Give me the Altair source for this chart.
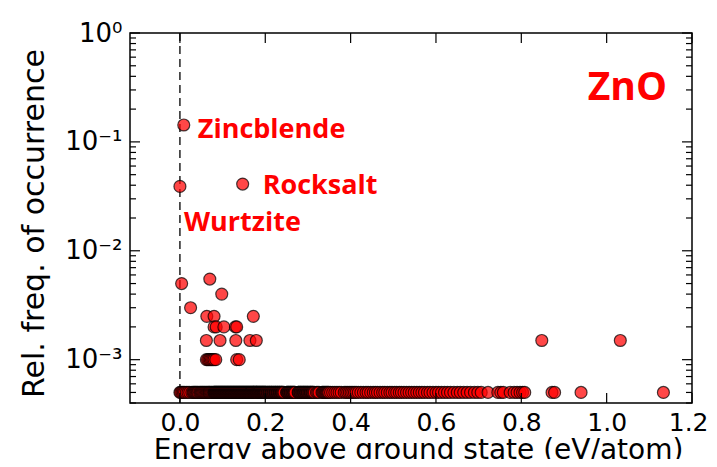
import altair as alt
import pandas as pd

# ---------------- data ----------------
# x positions (eV/atom) of the structures, grouped by their relative frequency
freq_levels = [0.143, 0.041, 0.039, 0.0055, 0.005, 0.004, 0.003, 0.0025, 0.002, 0.0015, 0.001, 0.0005]

x_0143 = [0.009]
x_0041 = [0.147]
x_0039 = [0.000]
x_00055 = [0.070]
x_0005 = [0.004]
x_0004 = [0.098]
x_0003 = [0.025]
x_00025 = [0.063, 0.080, 0.172]
x_0002 = [0.080, 0.085, 0.103, 0.130, 0.133]
x_00015 = [0.062, 0.094, 0.131, 0.164, 0.179, 0.848, 1.032]
x_0001 = [0.062, 0.065, 0.068, 0.071, 0.074, 0.077, 0.080, 0.084, 0.133, 0.139]
x_00005 = [
    0.000, 0.002, 0.005, 0.008, 0.011, 0.015, 0.019, 0.023, 0.028, 0.031, 0.033,
    0.035, 0.037, 0.039, 0.041, 0.043, 0.046, 0.048, 0.050, 0.052, 0.054, 0.056,
    0.058, 0.060, 0.062, 0.064, 0.066, 0.068, 0.069, 0.071, 0.073, 0.075, 0.077,
    0.079, 0.080, 0.081, 0.082, 0.083, 0.084, 0.085, 0.086, 0.087, 0.088, 0.089,
    0.090, 0.091, 0.092, 0.093, 0.094, 0.095, 0.096, 0.097, 0.098, 0.099, 0.100,
    0.101, 0.102, 0.103, 0.104, 0.105, 0.106, 0.107, 0.108, 0.109, 0.110, 0.111,
    0.112, 0.113, 0.114, 0.115, 0.116, 0.117, 0.118, 0.119, 0.120, 0.121, 0.122,
    0.123, 0.124, 0.125, 0.126, 0.127, 0.128, 0.129, 0.130, 0.131, 0.132, 0.133,
    0.134, 0.135, 0.136, 0.137, 0.138, 0.139, 0.140, 0.141, 0.142, 0.143, 0.144,
    0.145, 0.146, 0.147, 0.148, 0.149, 0.150, 0.151, 0.152, 0.153, 0.154, 0.155,
    0.156, 0.157, 0.158, 0.159, 0.160, 0.161, 0.162, 0.163, 0.164, 0.165, 0.166,
    0.167, 0.168, 0.169, 0.170, 0.171, 0.172, 0.173, 0.174, 0.175, 0.176, 0.177,
    0.178, 0.179, 0.180, 0.181, 0.182, 0.183, 0.184, 0.185, 0.186, 0.187, 0.188,
    0.189, 0.190, 0.191, 0.192, 0.193, 0.194, 0.195, 0.196, 0.197, 0.198, 0.199,
    0.200, 0.201, 0.202, 0.204, 0.205, 0.206, 0.208, 0.209, 0.210, 0.211, 0.213,
    0.214, 0.215, 0.216, 0.218, 0.219, 0.220, 0.222, 0.223, 0.224, 0.225, 0.227,
    0.228, 0.229, 0.230, 0.232, 0.233, 0.234, 0.235, 0.237, 0.238, 0.239, 0.240,
    0.242, 0.244, 0.250, 0.251, 0.252, 0.254, 0.255, 0.256, 0.258, 0.259, 0.260,
    0.262, 0.263, 0.264, 0.266, 0.267, 0.268, 0.270, 0.277, 0.278, 0.279, 0.281,
    0.282, 0.283, 0.285, 0.286, 0.287, 0.289, 0.290, 0.291, 0.292, 0.294, 0.295,
    0.296, 0.298, 0.299, 0.300, 0.302, 0.303, 0.305, 0.306, 0.307, 0.309, 0.310,
    0.311, 0.313, 0.315, 0.320, 0.323, 0.326, 0.333, 0.335, 0.337, 0.339, 0.341,
    0.343, 0.345, 0.347, 0.349, 0.353, 0.358, 0.363, 0.368, 0.373, 0.378, 0.385,
    0.389, 0.393, 0.397, 0.401, 0.405, 0.409, 0.413, 0.418, 0.424,
    0.430, 0.436, 0.441, 0.447, 0.453, 0.458, 0.463, 0.469, 0.475, 0.480, 0.486,
    0.492, 0.497, 0.503, 0.508, 0.514, 0.519, 0.525, 0.531, 0.537, 0.543, 0.549,
    0.555, 0.561, 0.567, 0.573, 0.580, 0.586, 0.593, 0.600, 0.606, 0.613, 0.620,
    0.627, 0.634, 0.642, 0.650, 0.657, 0.665, 0.673, 0.681, 0.690, 0.698, 0.706,
    0.722, 0.745, 0.752, 0.758, 0.774, 0.783, 0.790, 0.797, 0.803, 0.808,
    0.872, 0.878, 0.940, 1.133,
]
x_by_level = [x_0143, x_0041, x_0039, x_00055, x_0005, x_0004, x_0003,
              x_00025, x_0002, x_00015, x_0001, x_00005]

label_names = ["Zincblende", "Rocksalt", "Wurtzite"]
label_x = [0.009, 0.147, 0.000]
label_y = [0.143, 0.041, 0.039]

x_ticks = [0.0, 0.2, 0.4, 0.6, 0.8, 1.0, 1.2]
y_major = [0.001, 0.01, 0.1, 1.0]
y_minor = [0.0004, 0.0005, 0.0006, 0.0007, 0.0008, 0.0009,
           0.002, 0.003, 0.004, 0.005, 0.006, 0.007, 0.008, 0.009,
           0.02, 0.03, 0.04, 0.05, 0.06, 0.07, 0.08, 0.09,
           0.2, 0.3, 0.4, 0.5, 0.6, 0.7, 0.8, 0.9]

# ---------------- tables ----------------
rows = []
for f, xs in zip(freq_levels, x_by_level):
    for xv in xs:
        rows.append({"energy": xv, "freq": f})
pts = pd.DataFrame(rows)
labels = pd.DataFrame({"name": label_names, "energy": label_x, "freq": label_y})

W, H = 562, 370
xscale = alt.Scale(domain=[-0.117, 1.2], nice=False, zero=False)
yscale = alt.Scale(type="log", domain=[0.0004, 1.0], nice=False)

x_axis = alt.Axis(values=x_ticks, format=".1f", labelFontSize=25,
                  labelPadding=7, labelFlush=5, labelFlushOffset=16,
                  labelOverlap=False,
                  title="Energy above ground state (eV/atom)",
                  titleFontSize=28, titleBaseline="alphabetic",
                  titleX=288, titleY=55, titleAlign="center")
y_axis = alt.Axis(values=y_major, labelFontSize=26, labelPadding=8,
                  labelOverlap=False,
                  labelExpr="datum.value > 0.5 ? '10\u2070' : datum.value > 0.05 ? '10\u207b\u00b9' : datum.value > 0.005 ? '10\u207b\u00b2' : '10\u207b\u00b3'",
                  title="Rel. freq. of occurrence", titleFontSize=30,
                  titleBaseline="alphabetic", titleAngle=270,
                  titleX=-87, titleY=190, titleAlign="center")

def X(field):
    return alt.X(field, scale=xscale, axis=x_axis)

def Y(field):
    return alt.Y(field, scale=yscale, axis=y_axis)

# ---------------- layers ----------------
zero_line = alt.Chart(pd.DataFrame({"energy": [0.0]})).mark_rule(
    color="black", strokeWidth=1.3, strokeDash=[8, 5]
).encode(x=X("energy:Q"))

points = alt.Chart(pts).mark_circle(
    size=143, color="#ff0000", fillOpacity=0.72, stroke="black",
    strokeWidth=1.2, strokeOpacity=0.72
).encode(x=X("energy:Q"), y=Y("freq:Q"))

def ytick(values, x0, x1):
    return alt.Chart(pd.DataFrame({"freq": values})).mark_rule(
        color="black", strokeWidth=1.2
    ).encode(y=Y("freq:Q"), x=alt.value(x0), x2=alt.value(x1))

def xtick(values, y0, y1):
    return alt.Chart(pd.DataFrame({"energy": values})).mark_rule(
        color="black", strokeWidth=1.2
    ).encode(x=X("energy:Q"), y=alt.value(y0), y2=alt.value(y1))

ticks = [
    ytick(y_major, 0, 10), ytick(y_minor, 0, 6),
    ytick(y_major, W - 10, W), ytick(y_minor, W - 6, W),
    xtick(x_ticks, 0, 10), xtick(x_ticks, H - 10, H),
]

def label_layer(name, dx, dy):
    return alt.Chart(labels).transform_filter(alt.datum.name == name).mark_text(
        align="left", baseline="alphabetic", dx=dx, dy=dy,
        font="Open Sans", fontWeight="bold", fontSize=27, color="#ff0000"
    ).encode(x=X("energy:Q"), y=Y("freq:Q"), text="name:N")

texts = [label_layer("Zincblende", 14, 13),
         label_layer("Rocksalt", 20, 10),
         label_layer("Wurtzite", 4, 45)]

zno = alt.Chart(pd.DataFrame({"t": ["ZnO"]})).mark_text(
    align="right", baseline="alphabetic", font="Open Sans", fontWeight="bold",
    fontSize=39, color="#ff0000"
).encode(x=alt.value(W - 25), y=alt.value(67), text="t:N")

chart = alt.layer(zero_line, points, *ticks, *texts, zno).properties(
    width=W, height=H,
    autosize=alt.AutoSizeParams(type="none"),
    padding={"left": 122, "top": 25, "right": 17, "bottom": 56},
).configure_view(stroke="black", strokeWidth=1.5).configure_axis(
    domain=False, ticks=False, tickSize=0, grid=False,
    labelFont="DejaVu Sans", titleFont="DejaVu Sans",
    labelColor="black", titleColor="black", titleFontWeight="normal",
)

chart.save("out.html", embed_options={"renderer": "svg", "actions": False})
